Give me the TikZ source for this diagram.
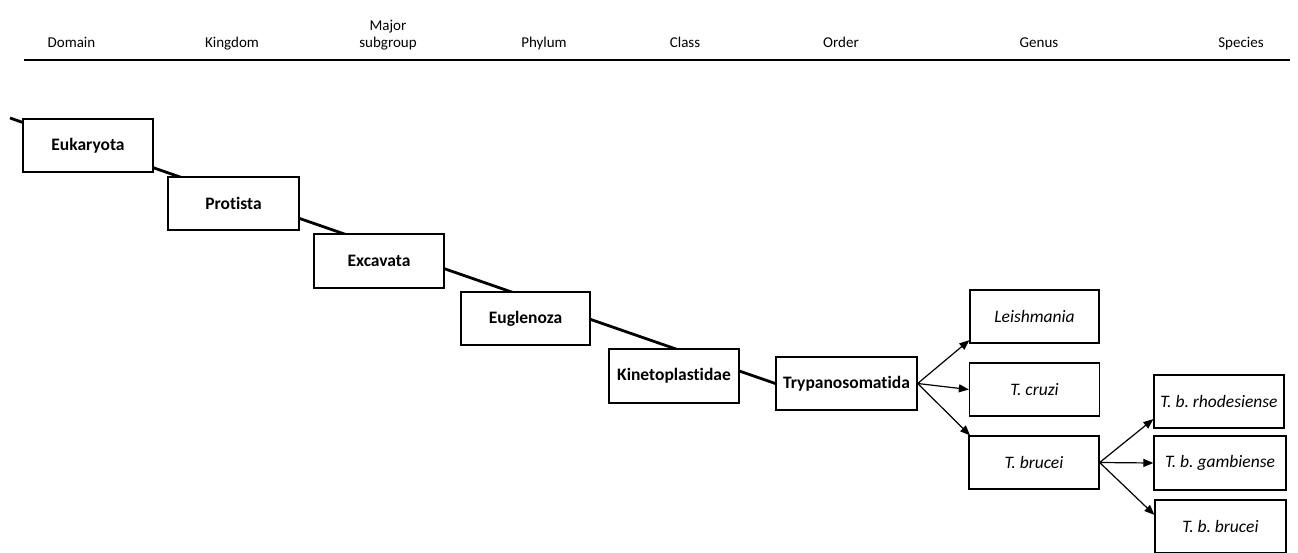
\documentclass[tikz,border=0pt]{standalone}
\usepackage{fontspec}
\setmainfont{Carlito}[Ligatures={NoCommon,NoRare,NoContextual}]
\usetikzlibrary{arrows.meta,backgrounds,positioning}
\frenchspacing

\begin{document}
\begin{tikzpicture}[x=1pt,y=-1pt,font=\fontsize{15}{17}\selectfont]
    \tikzstyle{taxon}=[draw, fill=white, line width=1.3pt, minimum width=130pt, minimum height=53pt, inner sep=2pt, font=\fontsize{17.5}{20}\selectfont\bfseries]
    \tikzstyle{species}=[taxon, font=\fontsize{17.5}{20}\selectfont\itshape]
    \tikzstyle{rank}=[align=center, anchor=base, inner sep=0pt]
    \tikzstyle{branch}=[-{Triangle[length=10pt,width=8pt]}, line width=1.2pt]

    \useasboundingbox (0,0) rectangle (1298,552);

    % rank headings
    \node[rank] (domain)   at (71.5,47) {Domain};
    \node[rank] (kingdom)  at (232,47)  {Kingdom};
    \node[rank] (subgroup) at (388,47)  {Major\\subgroup};
    \node[rank] (phylum)   at (544,47)  {Phylum};
    \node[rank] (class)    at (685,47)  {Class};
    \node[rank] (order)    at (841,47)  {Order};
    \node[rank] (genus)    at (1039,47) {Genus};
    \node[rank] (species)  at (1241,47) {Species};
    \coordinate (ruleL) at (24,60);
    \coordinate (ruleR) at (1290,60);
    \draw[line width=1.4pt] (ruleL) -- (ruleR);

    % lineage
    \node[taxon] (euk)  at (88,145.5)  {Eukaryota};
    \node[taxon, minimum width=131pt] (prot) at (233.5,203.5) {Protista};
    \node[taxon, minimum height=54pt] (exc)  at (379,261) {Excavata};
    \node[taxon, minimum width=129pt] (eug)  at (525.5,318.5) {Euglenoza};
    \node[taxon, minimum height=54pt] (kin)  at (674,376) {Kinetoplastidae};
    \node[taxon, minimum width=141pt] (tryp) at (846.5,383.5) {Trypanosomatida};

    % genera and species
    \node[species, minimum width=129pt] (leish) at (1034.5,316.5) {Leishmania};
    \node[species] (cruzi) at (1034.5,389.5) {T. cruzi};
    \node[species] (tbru)  at (1034,462.5) {T. brucei};
    \node[species] (rhod)  at (1219,401.5) {T. b. rhodesiense};
    \node[species, minimum width=132pt, minimum height=54pt] (gamb) at (1220,463) {T. b. gambiense};
    \node[species, minimum width=131pt] (tbb)   at (1220.5,526.5) {T. b. brucei};

    \coordinate (stem) at (10,118);
    \begin{scope}[on background layer]
        \draw[line width=2.8pt] (stem) -- (tryp.west);
    \end{scope}

    \draw[branch] (tryp.east) -- (leish.200);
    \draw[branch] (tryp.east) -- (cruzi.west);
    \draw[branch] (tryp.east) -- (tbru.157);
    \draw[branch] (tbru.east) -- (rhod.195);
    \draw[branch] (tbru.east) -- (gamb.west);
    \draw[branch] (tbru.east) -- (tbb.170);
\end{tikzpicture}
\end{document}
